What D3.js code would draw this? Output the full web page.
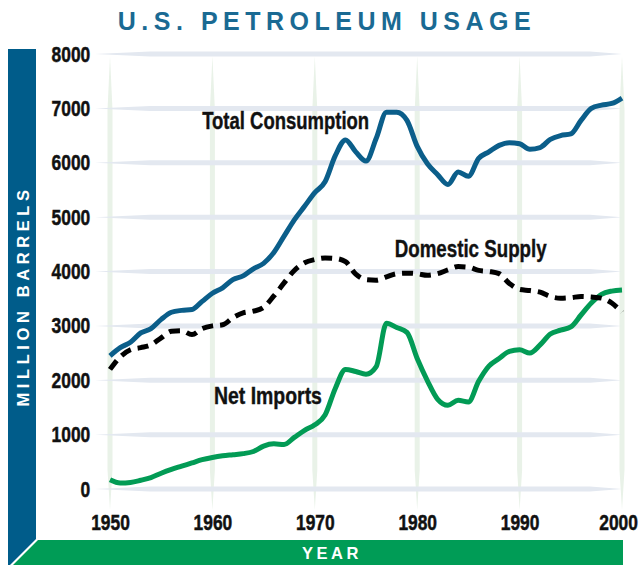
<!DOCTYPE html>
<html>
<head>
<meta charset="utf-8">
<script src="https://cdn.jsdelivr.net/npm/d3@7"></script>
<style>
  body { margin: 0; background: #fff; }
  .tick text { font-family: "Liberation Sans", Arial, sans-serif; font-weight: bold; fill: #111; stroke: #111; stroke-width: 0.5px; }
</style>
</head>
<body>
<div id="vis"></div>
<script>
// frame constants
const FRAME_WIDTH = 641;
const FRAME_HEIGHT = 565;
const PLOT = {left: 110, right: 622, top: 54, bottom: 489};

// chart data (million barrels per year)
const years = d3.range(1950, 2001);
const totalConsumption = [2450, 2600, 2700, 2870, 2950, 3120, 3250, 3285, 3300, 3450,
  3600, 3700, 3850, 3920, 4050, 4150, 4350, 4650, 4950, 5200,
  5450, 5650, 6130, 6420, 6200, 6030, 6450, 6930, 6930, 6780,
  6300, 5980, 5780, 5600, 5830, 5750, 6080, 6200, 6320, 6370,
  6350, 6250, 6280, 6430, 6500, 6530, 6780, 7000, 7060, 7090, 7190];
const domesticSupply = [2200, 2430, 2560, 2600, 2650, 2780, 2900, 2910, 2840, 2950,
  3000, 3020, 3150, 3240, 3270, 3340, 3550, 3790, 4020, 4160,
  4220, 4250, 4240, 4180, 3950, 3850, 3840, 3900, 3960, 3970,
  3960, 3930, 3960, 4030, 4090, 4080, 4020, 4000, 3960, 3780,
  3670, 3650, 3620, 3540, 3510, 3520, 3540, 3530, 3510, 3420, 3250];
const netImports = [170, 110, 120, 160, 210, 290, 360, 420, 480, 540,
  580, 610, 630, 650, 690, 790, 830, 820, 950, 1080,
  1180, 1360, 1850, 2200, 2160, 2110, 2250, 3050, 2970, 2880,
  2400, 1990, 1650, 1540, 1630, 1600, 1980, 2260, 2400, 2530,
  2560, 2500, 2650, 2850, 2920, 2980, 3200, 3420, 3580, 3640, 3660];

const xTicks = [1950, 1960, 1970, 1980, 1990, 2000];
const yTicks = [0, 1000, 2000, 3000, 4000, 5000, 6000, 7000, 8000];

const seriesLabels = [
  {text: "Total Consumption", year: 1959.0, value: 6620, width: 167},
  {text: "Domestic Supply", year: 1977.8, value: 4275, width: 152},
  {text: "Net Imports", year: 1960.15, value: 1565, width: 108}
];

const BLUE = "#0b5e8a";
const GREEN = "#029b55";
const CONDENSED = "Liberation Sans, Arial, sans-serif";

const FRAME = d3.select("#vis")
  .append("svg")
    .attr("width", FRAME_WIDTH)
    .attr("height", FRAME_HEIGHT);

const X_SCALE = d3.scaleLinear().domain([1950, 2000]).range([PLOT.left, PLOT.right]);
const Y_SCALE = d3.scaleLinear().domain([0, 8000]).range([PLOT.bottom, PLOT.top]);

// title
FRAME.append("text")
  .attr("x", 327)
  .attr("y", 30)
  .attr("text-anchor", "middle")
  .attr("font-family", "Liberation Sans, Arial, sans-serif")
  .attr("font-weight", "bold")
  .attr("font-size", "25px")
  .attr("letter-spacing", "5.5px")
  .attr("fill", "#1a6a93")
  .text("U.S. PETROLEUM USAGE");

// left blue band and bottom green band
FRAME.append("path")
  .attr("d", "M8,49 L36,49 L36,539 L10,565 L8,565 Z")
  .attr("fill", "#005c8a");
FRAME.append("path")
  .attr("d", "M38,540 L623,540 L623,565 L13,565 Z")
  .attr("fill", "#009c56");

FRAME.append("text")
  .attr("transform", "translate(29," + 296 + ") rotate(-90)")
  .attr("text-anchor", "middle")
  .attr("font-family", "Liberation Sans, Arial, sans-serif")
  .attr("font-weight", "bold")
  .attr("font-size", "16.5px")
  .attr("letter-spacing", "4.6px")
  .attr("fill", "#fff")
  .text("MILLION BARRELS");

FRAME.append("text")
  .attr("x", 332)
  .attr("y", 559)
  .attr("text-anchor", "middle")
  .attr("font-family", "Liberation Sans, Arial, sans-serif")
  .attr("font-weight", "bold")
  .attr("font-size", "16.5px")
  .attr("letter-spacing", "3.5px")
  .attr("fill", "#fff")
  .text("YEAR");

// vertical grid lines, tapered at both ends
FRAME.append("g").selectAll("path")
  .data(xTicks)
  .enter()
  .append("path")
    .attr("d", (d) => {
      const x = X_SCALE(d);
      return "M" + x + ",56 L" + (x + 2.5) + ",110 L" + (x + 2.5) + ",470 L" + x + ",510 L" +
             (x - 2.5) + ",470 L" + (x - 2.5) + ",110 Z";
    })
    .attr("fill", "#e9f2e8");

// horizontal grid lines, tapered at both ends
FRAME.append("g").selectAll("path")
  .data(yTicks)
  .enter()
  .append("path")
    .attr("d", (d) => {
      const y = Y_SCALE(d);
      return "M95," + y + " L150," + (y - 2.5) + " L590," + (y - 2.5) + " L622," + y +
             " L590," + (y + 2.5) + " L150," + (y + 2.5) + " Z";
    })
    .attr("fill", "#e3e8f0");

// squeeze tick labels horizontally into a condensed look
function condense(g) {
  g.selectAll("text").attr("transform", "scale(0.79,1)");
}

// axes (labels only)
FRAME.append("g")
  .attr("transform", "translate(95,0)")
  .call(d3.axisLeft(Y_SCALE).tickValues(yTicks).tickSize(0).tickPadding(6).tickFormat(d3.format("d")))
  .attr("font-size", "22px")
  .call((g) => g.select(".domain").remove())
  .call(condense);

FRAME.append("g")
  .attr("transform", "translate(0,512)")
  .call(d3.axisBottom(X_SCALE).tickValues(xTicks).tickSize(0).tickPadding(2).tickFormat(d3.format("d")))
  .attr("font-size", "22px")
  .call((g) => g.select(".domain").remove())
  .call(condense)
  .call((g) => g.selectAll("text").filter((d) => d === 2000).attr("dx", -5));

// lines
function drawLine(values, color, dash) {
  const line = d3.line()
    .x((d, i) => X_SCALE(years[i]))
    .y((d) => Y_SCALE(d))
    .curve(d3.curveMonotoneX);
  FRAME.append("path")
    .datum(values)
    .attr("d", line)
    .attr("fill", "none")
    .attr("stroke", color)
    .attr("stroke-width", 5)
    .attr("stroke-linejoin", "round")
    .attr("stroke-dasharray", dash);
}

drawLine(netImports, GREEN, null);
drawLine(totalConsumption, BLUE, null);
drawLine(domesticSupply, "#000", "11,7");

// series labels
FRAME.append("g").selectAll("text")
  .data(seriesLabels)
  .enter()
  .append("text")
    .attr("x", (d) => X_SCALE(d.year))
    .attr("y", (d) => Y_SCALE(d.value))
    .attr("font-family", CONDENSED)
    .attr("font-weight", "bold")
    .attr("font-size", "24px")
    .attr("textLength", (d) => d.width)
    .attr("lengthAdjust", "spacingAndGlyphs")
    .attr("fill", "#111")
    .attr("stroke", "#111")
    .attr("stroke-width", 0.4)
    .text((d) => d.text);
</script>
</body>
</html>
